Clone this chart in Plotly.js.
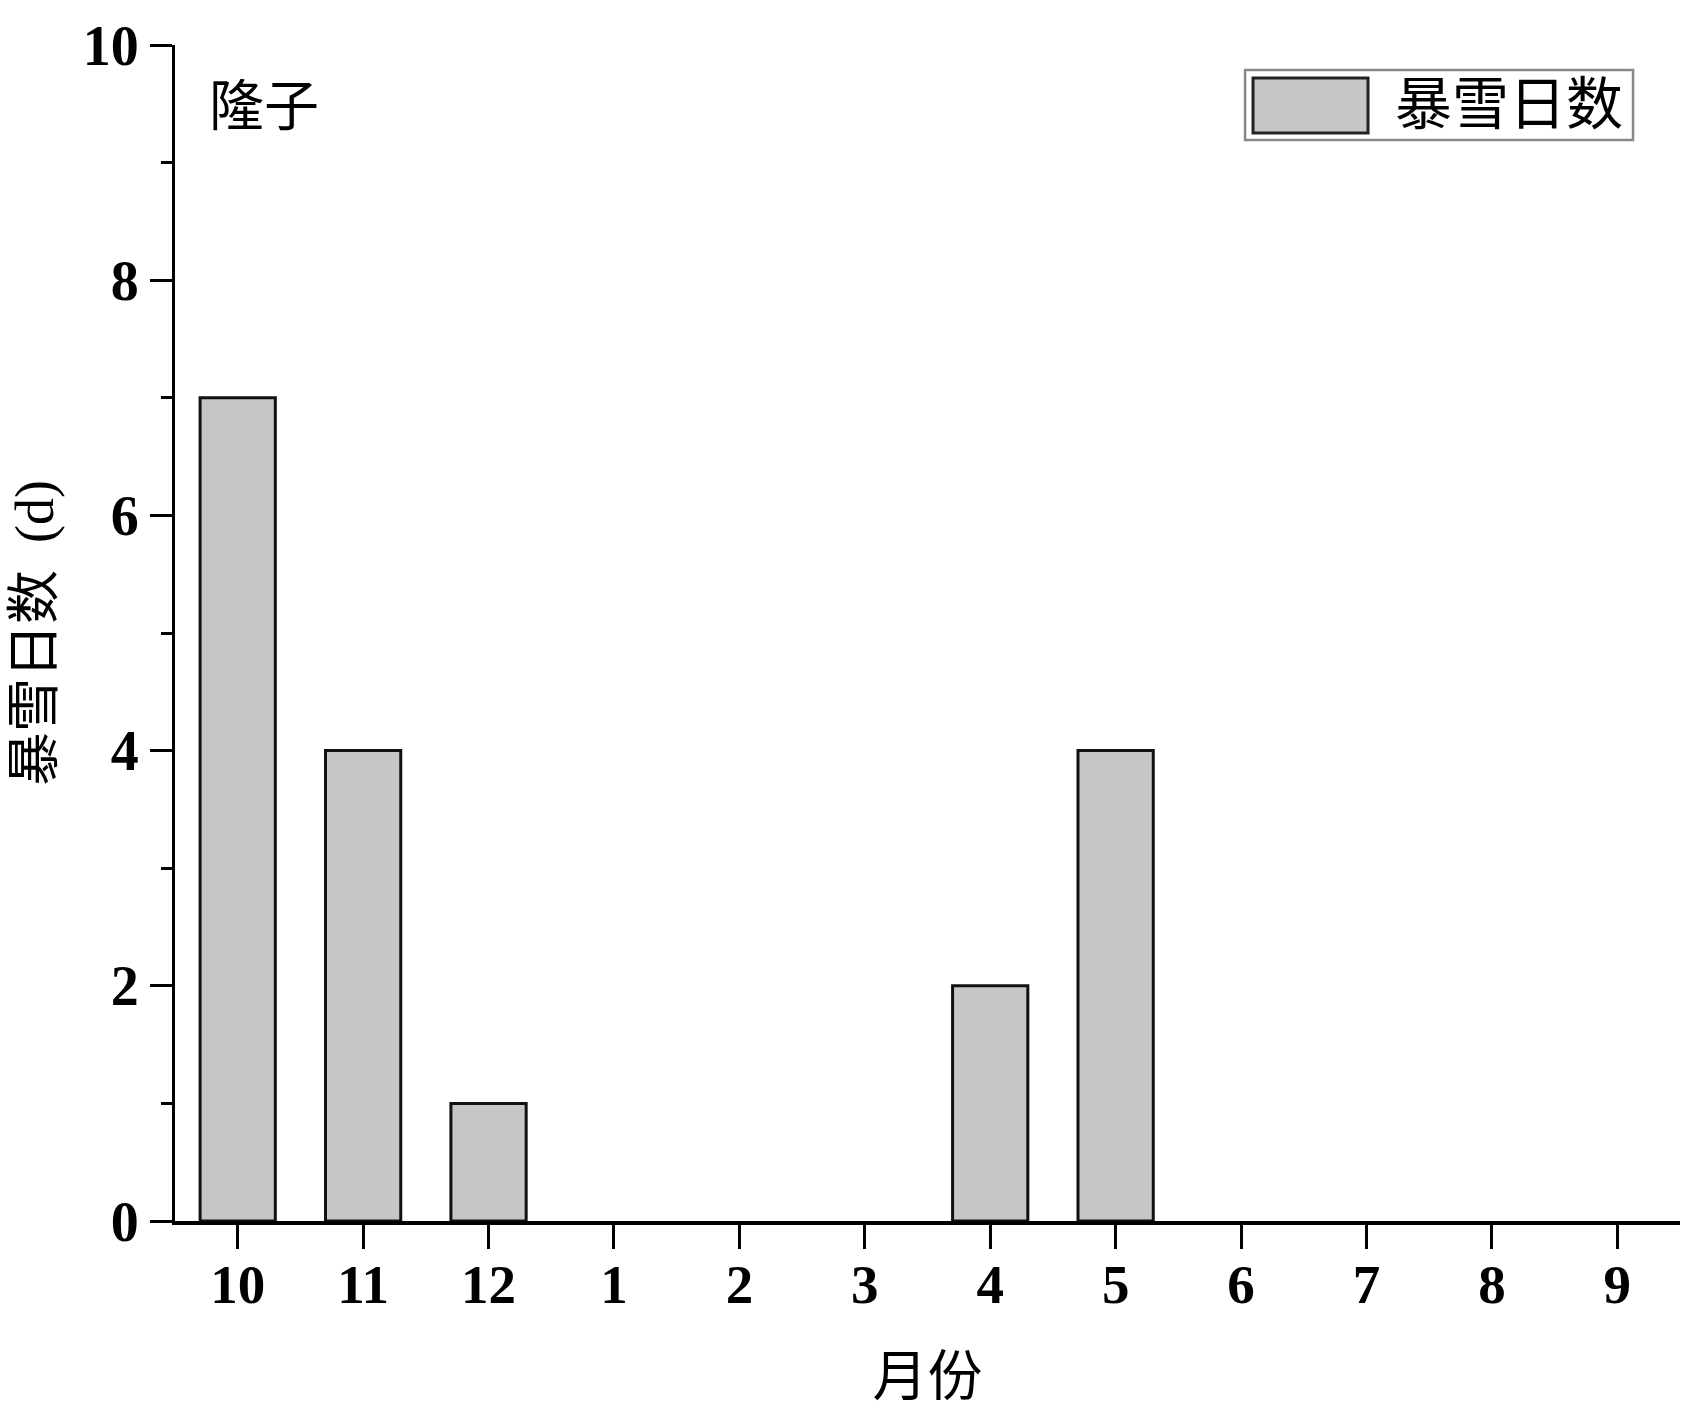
<!DOCTYPE html>
<html>
<head>
<meta charset="utf-8">
<script src="https://cdn.plot.ly/plotly-3.0.1.min.js"></script>
<style>
  html, body { margin: 0; padding: 0; background: #fff; }
  #chart { width: 1683px; height: 1417px; }
</style>
</head>
<body>
<div id="chart"></div>
<script>
// 隆子站 各月暴雪日数
const months = ['10', '11', '12', '1', '2', '3', '4', '5', '6', '7', '8', '9'];
const snowDays = [7, 4, 1, 0, 0, 0, 2, 4, 0, 0, 0, 0];
const seriesName = '暴雪日数';
const stationName = '隆子';
const yTicks = [0, 2, 4, 6, 8, 10];

const numFont = 'Liberation Serif, Times New Roman, serif';
const cjkFont = 'Liberation Serif, Noto Sans CJK SC, sans-serif';

const trace = {
    x: months,
    y: snowDays,
    type: 'bar',
    name: seriesName,
    marker: {
        color: '#c6c6c6',
        // no outline for empty months, as in the original
        line: { color: '#111', width: snowDays.map(v => v > 0 ? 3 : 0) }
    },
    showlegend: false
};

const layout = {
    width: 1683,
    height: 1417,
    margin: { l: 175, r: 3, t: 45, b: 196 },
    paper_bgcolor: '#fff',
    plot_bgcolor: '#fff',
    bargap: 0.4,
    xaxis: {
        type: 'category',
        range: [-0.5, 11.5],
        showline: true,
        linecolor: '#000',
        linewidth: 3.5,
        ticks: 'outside',
        ticklen: 24,
        tickwidth: 3,
        tickcolor: '#000',
        ticklabelstandoff: -12,
        showgrid: false,
        zeroline: false,
        tickfont: { family: numFont, size: 55, color: '#000', weight: 'bold' },
        title: { text: '月份', font: { family: cjkFont, size: 55, color: '#000' }, standoff: 44 }
    },
    yaxis: {
        range: [0, 10],
        tickvals: yTicks,
        showline: true,
        linecolor: '#000',
        linewidth: 3,
        ticks: 'outside',
        ticklen: 22,
        tickwidth: 3,
        tickcolor: '#000',
        minor: { dtick: 1, ticks: 'outside', ticklen: 11, tickwidth: 3, tickcolor: '#000', showgrid: false },
        showgrid: false,
        zeroline: false,
        tickfont: { family: numFont, size: 56, color: '#000', weight: 'bold' },
        title: { text: '暴雪日数\u00a0 (d)', font: { family: cjkFont, size: 54, color: '#000' }, standoff: 12 }
    },
    shapes: [
        // legend box
        { type: 'rect', xref: 'paper', yref: 'paper', x0: 0.711, x1: 0.9688, y0: 0.9192, y1: 0.9787,
          line: { color: '#888', width: 2.5 }, fillcolor: 'rgba(0,0,0,0)' },
        { type: 'rect', xref: 'paper', yref: 'paper', x0: 0.7163, x1: 0.7927, y0: 0.9252, y1: 0.9719,
          line: { color: '#222', width: 3 }, fillcolor: '#c6c6c6' }
    ],
    annotations: [
        { text: stationName, xref: 'paper', yref: 'paper', x: 0.021, y: 0.975, xanchor: 'left', yanchor: 'top',
          showarrow: false, font: { family: cjkFont, size: 55, color: '#000' } },
        { text: seriesName, xref: 'paper', yref: 'paper', x: 0.809, y: 0.9495, xanchor: 'left', yanchor: 'middle',
          showarrow: false, font: { family: cjkFont, size: 57, color: '#000' } }
    ]
};

Plotly.newPlot('chart', [trace], layout, { displayModeBar: false, staticPlot: true });
</script>
</body>
</html>
